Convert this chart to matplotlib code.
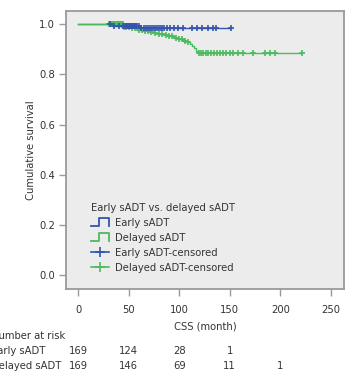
import matplotlib
matplotlib.use("Agg")
import matplotlib.pyplot as plt
from matplotlib.legend_handler import HandlerBase
from matplotlib.lines import Line2D
import numpy as np

plt.rcParams['font.family'] = ['DejaVu Sans']
plt.rcParams['font.stretch'] = 'condensed'

# Kaplan-Meier steps
early_t = [33, 62]
early_s = [0.994, 0.987]
early_end = 151
early_cens = [31, 35, 40, 44, 46, 47, 48, 49, 50, 51, 52, 53, 54, 55, 56, 57, 58, 60,
              62, 65, 67, 69, 71, 73, 75, 77, 79, 81, 83, 85, 88, 91, 95, 99,
              104, 113, 118, 123, 128, 133, 136, 151]

delayed_t = [45, 52, 58, 64, 70, 75, 80, 85, 90, 95, 100, 104, 108, 111, 113, 115, 117, 119]
delayed_s = [0.990, 0.984, 0.979, 0.975, 0.970, 0.966, 0.962, 0.957, 0.952, 0.947, 0.941,
             0.935, 0.928, 0.921, 0.913, 0.905, 0.895, 0.884]
delayed_end = 222
delayed_cens = [30, 32, 33, 34, 35, 36, 37, 38, 39, 40, 41, 42, 43, 44, 45, 47, 50, 53,
                56, 60, 63, 66, 69, 72, 76, 80, 83, 87, 90, 93, 97, 100, 103, 106, 109,
                120, 122, 124, 126, 128, 131, 134, 137, 140, 143, 146, 150, 153, 158,
                163, 173, 185, 190, 195, 222]

risk_times = [0, 50, 100, 150, 200]
risk_early = [169, 124, 28, 1, None]
risk_delayed = [169, 146, 69, 11, 1]

blue = '#3355aa'
green = '#4cba5e'
gray = '#9a9a9a'
fs = 8


def km_value(times, surv, t):
    s = 1.0
    for ti, si in zip(times, surv):
        if ti <= t:
            s = si
    return s


class StepHandler(HandlerBase):
    def create_artists(self, legend, orig_handle, xdescent, ydescent,
                       width, height, fontsize, trans):
        x0, y0 = -xdescent, -ydescent
        w = width
        xs = [x0, x0 + 0.45 * w, x0 + 0.45 * w, x0 + w, x0 + w]
        ys = [y0 + 0.05 * height, y0 + 0.05 * height, y0 + height, y0 + height, y0 + 0.05 * height]
        ln = Line2D(xs, ys, color=orig_handle.get_color(), lw=1.3, transform=trans)
        return [ln]


fig = plt.figure(figsize=(3.46, 3.73), dpi=100)
ax = fig.add_axes([66 / 346, 1 - 289.3 / 373, 278 / 346, 278.3 / 373])
ax.set_facecolor('#ebeceb')

ax.step([0] + early_t + [early_end], [1.0] + early_s + [early_s[-1]],
        where='post', color=blue, lw=1)
ax.step([0] + delayed_t + [delayed_end], [1.0] + delayed_s + [delayed_s[-1]],
        where='post', color=green, lw=1)

ax.plot(delayed_cens, [km_value(delayed_t, delayed_s, t) for t in delayed_cens],
        linestyle='none', marker='+', color=green, ms=5, mew=1.2)
ax.plot(early_cens, [km_value(early_t, early_s, t) for t in early_cens],
        linestyle='none', marker='+', color=blue, ms=5, mew=1.2)

ax.set_xlim(-12.2, 263.2)
ax.set_ylim(-0.056, 1.053)
ax.set_xticks([0, 50, 100, 150, 200, 250])
ax.set_yticks([0.0, 0.2, 0.4, 0.6, 0.8, 1.0])
ax.set_yticklabels(['0.0', '0.2', '0.4', '0.6', '0.8', '1.0'])
ax.tick_params(direction='out', length=5, width=1, color=gray, labelcolor='#333333',
               labelsize=fs)
ax.tick_params(axis='x', pad=6)
ax.tick_params(axis='y', pad=3)
for sp in ax.spines.values():
    sp.set_color(gray)
    sp.set_linewidth(1.3)

ax.set_xlabel('CSS (month)', fontsize=fs, color='#333333', labelpad=5)
ax.set_ylabel('Cumulative survival', fontsize=fs, color='#333333', labelpad=2)

h1 = Line2D([], [], color=blue)
h2 = Line2D([], [], color=green)
h3 = Line2D([], [], color=blue, marker='+', ms=7, mew=1.2, lw=1.2)
h4 = Line2D([], [], color=green, marker='+', ms=7, mew=1.2, lw=1.2)
leg = ax.legend([h1, h2, h3, h4],
                ['Early sADT', 'Delayed sADT', 'Early sADT-censored', 'Delayed sADT-censored'],
                title='Early sADT vs. delayed sADT', loc='lower left',
                bbox_to_anchor=(0.055, 0.022), frameon=False, fontsize=fs,
                title_fontsize=fs, handlelength=1.6, handleheight=0.8,
                handletextpad=0.5, labelspacing=0.45, numpoints=1,
                alignment='left', handler_map={h1: StepHandler(), h2: StepHandler()})
for txt in leg.get_texts():
    txt.set_color('#333333')
leg.get_title().set_color('#333333')

# number at risk table
def to_fig_x(t):
    disp = ax.transData.transform((t, 0))
    return fig.transFigure.inverted().transform(disp)[0]

rows = [('Number at risk', None, 1 - 336 / 373),
        ('Early sADT', risk_early, 1 - 351 / 373),
        ('Delayed sADT', risk_delayed, 1 - 366 / 373)]
for label, vals, yy in rows:
    fig.text(-9 / 346, yy, label, ha='left', va='center', fontsize=fs, color='#333333')
    if vals is None:
        continue
    for t, v in zip(risk_times, vals):
        if v is None:
            continue
        fig.text(to_fig_x(t), yy, str(v), ha='center', va='center', fontsize=fs,
                 color='#333333')

fig.savefig('out.png', dpi=100)
